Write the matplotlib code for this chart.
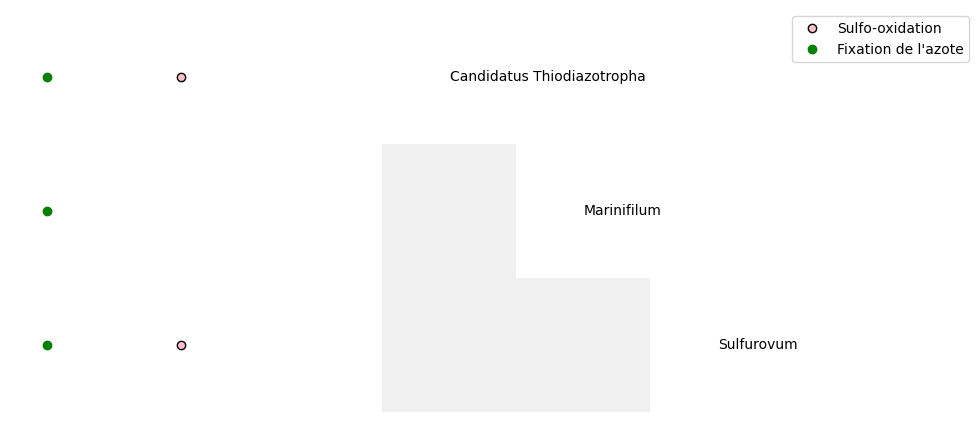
import numpy as np
import matplotlib
matplotlib.use("Agg")
import matplotlib.pyplot as plt
import matplotlib.transforms as mtransforms

genera = ["Candidatus Thiodiazotropha", "Marinifilum", "Sulfurovum"]
azote = [1, 1, 1]          # Fixation de l'azote (column 0)
sulfo = [1, 0, 1]          # Sulfo-oxidation (column 1)
shared = [[0, 0, 0],
          [1, 0, 0],
          [1, 1, 0]]       # grey cells (lower triangle)

fig = plt.figure(figsize=(9.78, 4.22), dpi=100)
ax = fig.add_axes([0, 0, 1, 1])

rows = np.arange(len(genera))

# grey matrix
M = np.array(shared, dtype=float)
Mm = np.ma.masked_where(M == 0, M)
xe = np.arange(M.shape[1] + 1) + 2.5
ye = np.arange(M.shape[0] + 1) - 0.5
ax.pcolormesh(xe, ye, Mm, cmap=matplotlib.colors.ListedColormap(["#f0f0f0"]),
              shading="flat", zorder=1)

sy = [r for r, v in zip(rows, sulfo) if v]
ay = [r for r, v in zip(rows, azote) if v]
ax.plot([1] * len(sy), sy, "o", markerfacecolor="pink", markeredgecolor="black",
        linestyle="none", label="Sulfo-oxidation", zorder=3)
ax.plot([0] * len(ay), ay, "o", color="green", linestyle="none",
        label="Fixation de l'azote", zorder=3)

offset = mtransforms.offset_copy(ax.transData, fig=fig, x=1, y=0, units="dots")
for i, g in enumerate(genera):
    ax.text(3 + i, i, g, ha="left", va="center", fontsize=10, transform=offset)

ax.set_xlim(-47 / 134, 931 / 134)
ax.set_ylim(345 / 134, -77 / 134)
ax.axis("off")

fig.legend(loc="upper right", bbox_to_anchor=(969 / 978, 1 - 16 / 422),
           borderaxespad=0)

fig.savefig("out.png", dpi=100)
